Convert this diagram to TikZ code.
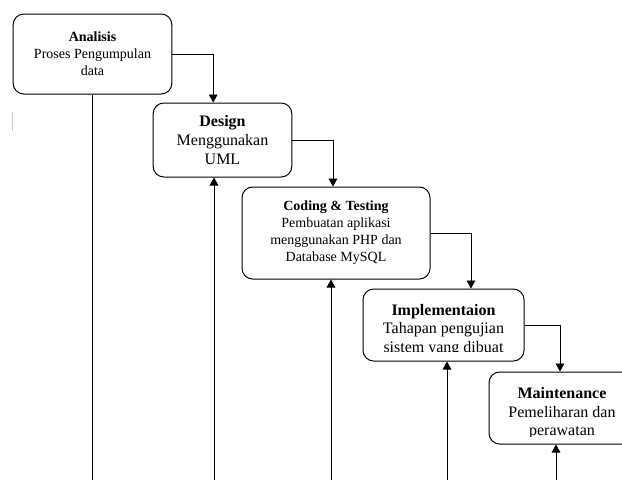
\documentclass[tikz,border=0pt]{standalone}
\usepackage{fontspec}
\setmainfont{Liberation Serif}
\usetikzlibrary{arrows.meta, positioning}

\tikzset{
  tahap/.style={draw, rounded corners=8pt, line width=0.75pt, align=center, inner sep=2pt},
  kecil/.style={font=\fontsize{10.5}{12.75}\selectfont},
  besar/.style={font=\fontsize{12}{13.9}\selectfont},
  alur/.style={-{Triangle[length=6pt,width=6.5pt]}, line width=0.7pt},
  garis/.style={line width=0.7pt},
}

\begin{document}
\begin{tikzpicture}[x=0.75pt, y=-0.75pt]
  \useasboundingbox (0,0) rectangle (622,480);
  \clip (0,0) rectangle (622,480);
  % tahapan
  \node[tahap, kecil, minimum width=119pt, minimum height=60pt] (analisis) at (92.5,54) {\textbf{Analisis}\\Proses Pengumpulan\\data};
  \node[tahap, besar, minimum width=104pt, minimum height=55.5pt] (design) at (222.5,140) {\textbf{Design}\\Menggunakan\\UML};
  \node[tahap, kecil, minimum width=141pt, minimum height=69pt] (coding) at (336,233) {\textbf{Coding \& Testing}\\Pembuatan aplikasi\\menggunakan PHP dan\\Database MySQL};
  \node[tahap, minimum width=120.75pt, minimum height=54pt] (impl) at (443.5,325) {};
  \node[tahap, minimum width=109.5pt, minimum height=54pt] (maint) at (562,408) {};
  \begin{scope}
    \clip (impl.west |- 0,289) rectangle (impl.east |- 0,351);
    \node[besar, align=center] (impltext) at (443.5,330) {\textbf{Implementaion}\\Tahapan pengujian\\sistem yang dibuat};
  \end{scope}
  \begin{scope}
    \clip (maint.west |- 0,372) rectangle (maint.east |- 0,436);
    \node[besar, align=center] (mainttext) at (562,413.5) {\textbf{Maintenance}\\Pemeliharan dan\\perawatan};
  \end{scope}
  % alur turun
  \draw[alur] (analisis.east) -| ([xshift=-7pt]design.north);
  \draw[alur] (design.east) -| ([xshift=-2.25pt]coding.north);
  \draw[alur] (coding.east) -| ([xshift=20.6pt]impl.north);
  \draw[alur] (impl.east) -| ([xshift=-1.5pt]maint.north);
  % garis balik dari bawah
  \coordinate (b1) at (92,480);
  \coordinate (b2) at (214,480);
  \coordinate (b3) at (331,480);
  \coordinate (b4) at (447,480);
  \coordinate (b5) at (556,480);
  \draw[garis] (analisis.south -| b1) -- (b1);
  \draw[alur] (b2) -- (b2 |- design.south);
  \draw[alur] (b3) -- (b3 |- coding.south);
  \draw[alur] (b4) -- (b4 |- impl.south);
  \draw[alur] (b5) -- (b5 |- maint.south);
  \draw[gray!40, line width=0.75pt] (12,112) -- (12,131);
\end{tikzpicture}
\end{document}
